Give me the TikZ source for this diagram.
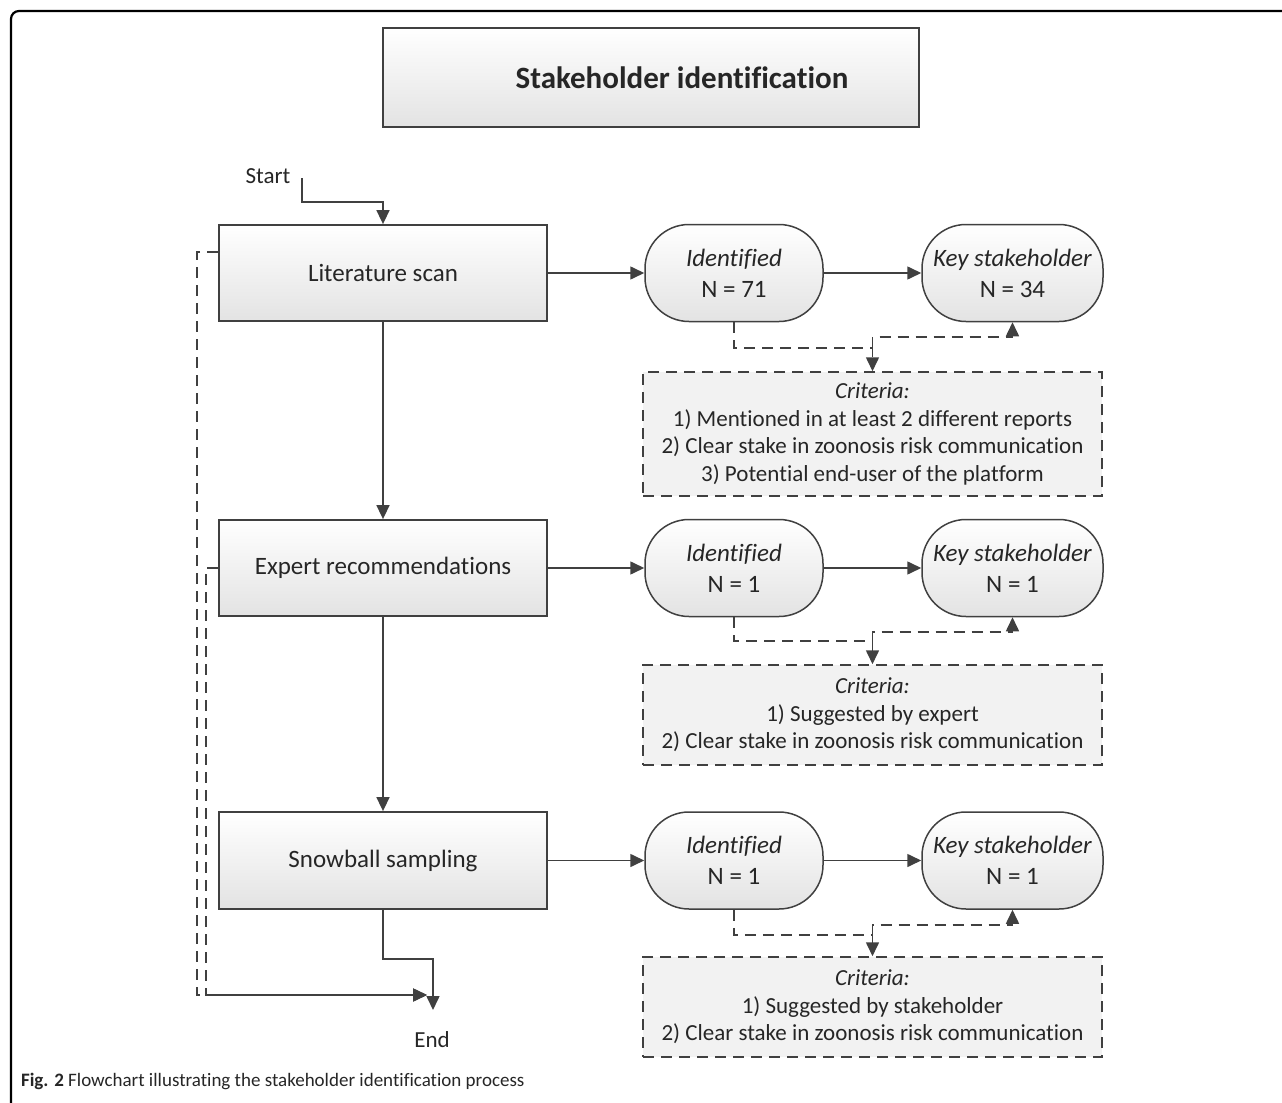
\documentclass[tikz,border=0pt]{standalone}
\usepackage{fontspec}
\setmainfont{Carlito}[Ligatures={NoCommon,NoRequired,NoContextual}]
\usepackage{tikz}
\usetikzlibrary{arrows.meta,positioning,calc}
\definecolor{linegray}{RGB}{64,64,64}
\definecolor{textgray}{RGB}{38,38,38}
\tikzset{
  procbox/.style={draw=linegray, line width=0.9pt, top color=white, bottom color=black!11,
    minimum width=164pt, minimum height=48pt, inner sep=2pt,
    font=\fontsize{12.5}{15}\selectfont, text=textgray},
  countbox/.style={draw=linegray, line width=0.75pt, rounded corners=22pt, top color=white,
    bottom color=black!11, minimum width=89pt, minimum height=48.5pt, inner sep=1pt,
    align=center, font=\fontsize{12.5}{15.5}\selectfont, text=textgray},
  critbox/.style={draw=linegray, dash pattern=on 5.5pt off 3.5pt, line width=0.75pt, fill=black!5,
    minimum width=229.5pt, align=center, font=\fontsize{11.5}{13.75}\selectfont, text=textgray},
  flow/.style={draw=linegray, line width=0.8pt, -{Triangle[length=7pt,width=6.5pt]}},
  link/.style={flow, dash pattern=on 5.5pt off 3.5pt},
  plain/.style={font=\fontsize{11.5}{14}\selectfont, text=textgray},
}
\begin{document}
\begin{tikzpicture}[x=0.5pt, y=-0.5pt]
  \useasboundingbox (0,0) rectangle (1282,1103);
  % frame
  \draw[line width=1.1pt, rounded corners=4pt] (1282,11) -- (11,11) -- (11,1103);
  % title
  \node[procbox, minimum width=268pt, minimum height=49.5pt,
    font=\fontsize{15.5}{18}\selectfont\bfseries] (title) at (651,77.5)
    {\hspace*{31pt}Stakeholder identification};
  % stages
  \node[procbox] (lit) at (383,273) {Literature scan};
  \node[procbox] (expert) at (383,568) {Expert recommendations};
  \node[procbox, minimum height=48.5pt] (snow) at (383,860.5) {Snowball sampling};
  \node[plain] (start) at (268,176) {Start};
  \node[plain] (finish) at (432,1040) {End};
  \coordinate (s0) at (302,178);
  \coordinate (fin) at (433,1010);
  \coordinate (finin) at (427,995);
  % counts
  \node[countbox] (id1) at (734,273) {\textit{Identified}\\N = 71};
  \node[countbox, minimum width=90.5pt] (key1) at (1012.5,273) {\textit{Key stakeholder}\\N = 34};
  \node[countbox] (id2) at (734,568) {\textit{Identified}\\N = 1};
  \node[countbox, minimum width=90.5pt] (key2) at (1012.5,568) {\textit{Key stakeholder}\\N = 1};
  \node[countbox] (id3) at (734,860.5) {\textit{Identified}\\N = 1};
  \node[countbox, minimum width=90.5pt] (key3) at (1012.5,860.5) {\textit{Key stakeholder}\\N = 1};
  % criteria
  \node[critbox, minimum height=62pt] (crit1) at (872.5,434) {\textit{Criteria:}\\
    1) Mentioned in at least 2 different reports\\
    2) Clear stake in zoonosis risk communication\\
    3) Potential end-user of the platform};
  \node[critbox, minimum height=50pt] (crit2) at (872.5,715) {\textit{Criteria:}\\
    1) Suggested by expert\\
    2) Clear stake in zoonosis risk communication};
  \node[critbox, minimum height=50pt] (crit3) at (872.5,1007) {\textit{Criteria:}\\
    1) Suggested by stakeholder\\
    2) Clear stake in zoonosis risk communication};
  \coordinate (j1) at (872.5,348);
  \coordinate (j2) at (872.5,641);
  \coordinate (j3) at (872.5,935);
  % main flow
  \draw[flow] (s0) -- ++(0,24) -| (lit.north);
  \draw[flow] (lit.south) -- (expert.north);
  \draw[flow] (expert.south) -- (snow.north);
  \draw[flow] (snow.south) -- ++(0,49) -| (fin);
  \draw[link] ([yshift=10.5pt]lit.west) -- ++(-21,0) |- (finin);
  \draw[link] (expert.west) -- ++(-12,0) |- (finin);
  % rows
  \draw[flow] (lit.east) -- (id1.west);
  \draw[flow] (id1.east) -- (key1.west);
  \draw[flow] (expert.east) -- (id2.west);
  \draw[flow] (id2.east) -- (key2.west);
  \draw[flow] (snow.east) -- (id3.west);
  \draw[flow] (id3.east) -- (key3.west);
  % selection links
  \draw[link] (id1.south) |- (j1) -- (crit1.north);
  \draw[link] (j1) -- ++(0,-11) -| (key1.south);
  \draw[link] (id2.south) |- (j2) -- (crit2.north);
  \draw[link] (j2) -- ++(0,-9) -| (key2.south);
  \draw[link] (id3.south) |- (j3) -- (crit3.north);
  \draw[link] (j3) -- ++(0,-10) -| (key3.south);
  % caption
  \node[anchor=west, font=\fontsize{9.5}{11}\selectfont, text=black!85] (caption) at (14,1081)
    {\textbf{Fig. 2} Flowchart illustrating the stakeholder identification process};
\end{tikzpicture}
\end{document}
